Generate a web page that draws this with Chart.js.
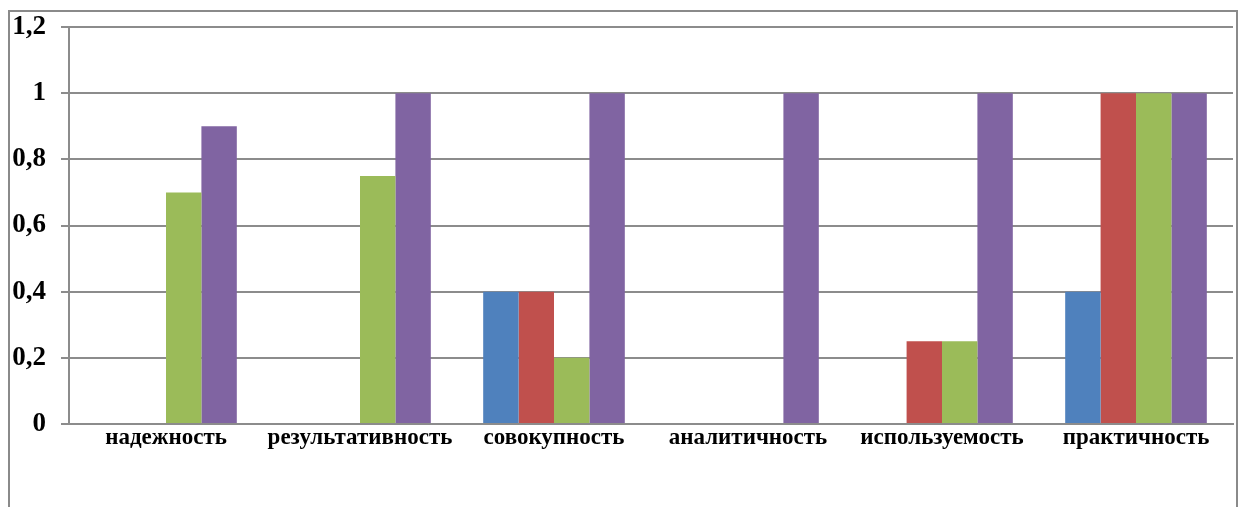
<!DOCTYPE html>
<html>
<head>
<meta charset="utf-8">
<script src="https://cdn.jsdelivr.net/npm/chart.js@4.4.1/dist/chart.umd.min.js"></script>
<style>
  html, body { margin: 0; padding: 0; background: #ffffff; }
  #wrap { position: relative; width: 1241px; height: 507px; }
  canvas { display: block; }
</style>
</head>
<body>
<div id="wrap"><canvas id="chart" width="1241" height="507"></canvas></div>
<script>
// Criteria along the category axis
const categories = ['надежность', 'результативность', 'совокупность', 'аналитичность', 'используемость', 'практичность'];

// Four series, one value per criterion
const series1 = [0, 0, 0.4, 0, 0, 0.4];
const series2 = [0, 0, 0.4, 0, 0.25, 1];
const series3 = [0.7, 0.75, 0.2, 0, 0.25, 1];
const series4 = [0.9, 1, 1, 1, 1, 1];

// Value-axis labels (decimal comma)
const yTickValues = [0, 0.2, 0.4, 0.6, 0.8, 1, 1.2];
const yTickLabels = ['0', '0,2', '0,4', '0,6', '0,8', '1', '1,2'];

const seriesColors = ['#4F81BD', '#C0504D', '#9BBB59', '#8064A2'];
const gridGrey = '#8c8c8c';
const serif = "'Liberation Serif', 'Times New Roman', serif";

// Outer frame around the whole chart object
const framePlugin = {
  id: 'outerFrame',
  beforeDraw(chart) {
    const ctx = chart.ctx;
    ctx.save();
    ctx.fillStyle = '#ffffff';
    ctx.fillRect(0, 0, chart.width, chart.height);
    ctx.strokeStyle = '#8a8a8a';
    ctx.lineWidth = 2;
    ctx.beginPath();
    ctx.moveTo(9, chart.height + 5);
    ctx.lineTo(9, 11);
    ctx.lineTo(1237, 11);
    ctx.lineTo(1237, chart.height + 5);
    ctx.stroke();
    ctx.restore();
  }
};

new Chart(document.getElementById('chart'), {
  type: 'bar',
  data: {
    labels: categories,
    datasets: [series1, series2, series3, series4].map((d, i) => ({
      label: 'Ряд ' + (i + 1),
      data: d,
      backgroundColor: seriesColors[i],
      borderWidth: 0,
      categoryPercentage: 0.73,
      barPercentage: 1.0
    }))
  },
  options: {
    responsive: false,
    animation: false,
    devicePixelRatio: 1,
    layout: { padding: { left: 0, right: 8, top: 27, bottom: 0 } },
    plugins: {
      legend: { display: false },
      tooltip: { enabled: false }
    },
    scales: {
      x: {
        grid: { display: false, drawTicks: false },
        border: { display: true, color: gridGrey, width: 2 },
        ticks: {
          color: '#000000',
          font: { family: serif, size: 23, weight: 'bold' },
          padding: 0,
          maxRotation: 0,
          autoSkip: false
        },
        afterFit(scale) {
          scale.height = 83;
          scale.paddingLeft = 0;
          scale.paddingRight = 0;
        }
      },
      y: {
        min: 0,
        max: 1.2,
        afterBuildTicks(scale) {
          scale.ticks = yTickValues.map(v => ({ value: v }));
        },
        grid: {
          color: gridGrey,
          lineWidth: 2,
          tickLength: 8,
          drawTicks: true
        },
        border: { display: true, color: gridGrey, width: 2 },
        ticks: {
          color: '#000000',
          font: { family: serif, size: 27, weight: 'bold' },
          padding: 15,
          callback(value) {
            const i = yTickValues.indexOf(value);
            return i >= 0 ? yTickLabels[i] : '';
          }
        },
        afterFit(scale) {
          scale.width = 69;
          scale.paddingTop = 0;
          scale.paddingBottom = 0;
        }
      }
    }
  },
  plugins: [framePlugin]
});
</script>
</body>
</html>
